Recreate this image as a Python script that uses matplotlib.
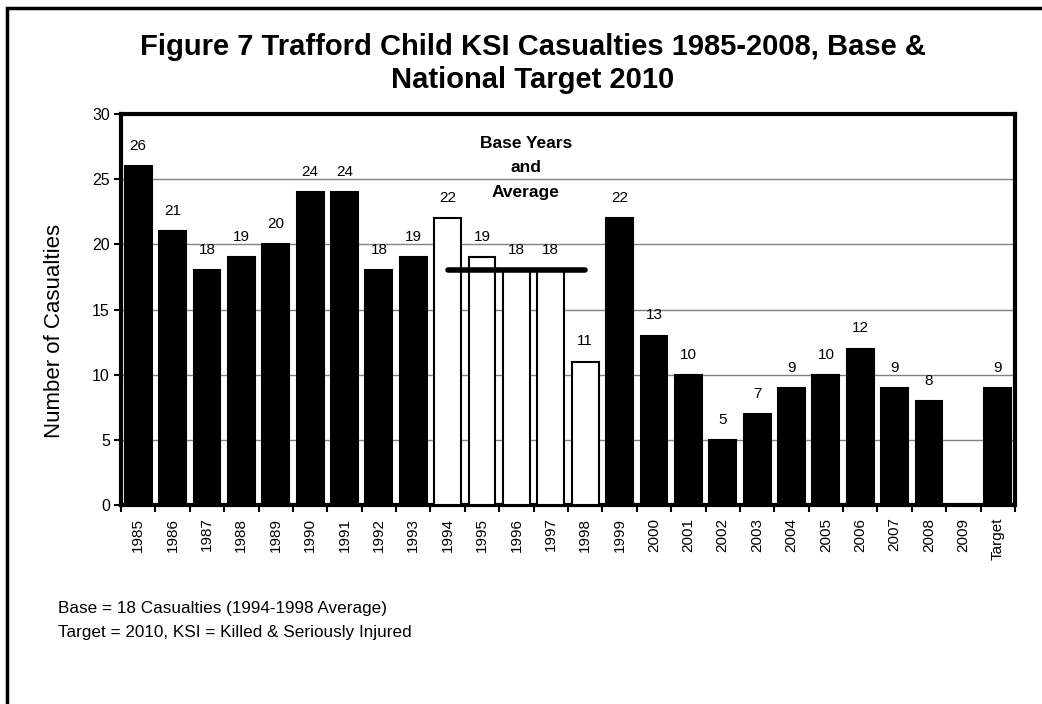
import matplotlib
matplotlib.use("Agg")
import matplotlib.pyplot as plt
from matplotlib.patches import Rectangle

plt.rcParams['font.family'] = ['Liberation Sans', 'DejaVu Sans']

categories = ['1985', '1986', '1987', '1988', '1989', '1990', '1991', '1992', '1993',
              '1994', '1995', '1996', '1997', '1998', '1999', '2000', '2001', '2002',
              '2003', '2004', '2005', '2006', '2007', '2008', '2009', 'Target']
values = [26, 21, 18, 19, 20, 24, 24, 18, 19,
          22, 19, 18, 18, 11, 22, 13, 10, 5,
          7, 9, 10, 12, 9, 8, 0, 9]
base_years = ['1994', '1995', '1996', '1997', '1998']
base_average = 18

W, H = 1042, 704
fig = plt.figure(figsize=(W / 100, H / 100), dpi=100)
ax = fig.add_axes([121 / W, 1 - 505 / H, (1015 - 121) / W, (505 - 114) / H])

x = list(range(len(categories)))
colors = ['white' if c in base_years else 'black' for c in categories]
ax.bar(x, values, width=0.78, color=colors, edgecolor='black', linewidth=1.5, zorder=3)

for xi, v, c in zip(x, values, categories):
    if c == '2009':
        continue
    ax.annotate(str(v), (xi, v), xytext=(0, 14.5), textcoords='offset points',
                ha='center', va='center', fontsize=11)

bx = [categories.index(base_years[0]), categories.index(base_years[-1])]
ax.plot(bx, [base_average, base_average], color='black', linewidth=4,
        solid_capstyle='round', zorder=4)

for txt, yy in zip(['Base Years', 'and', 'Average'], [143, 168, 192]):
    fig.text(526 / W, 1 - yy / H, txt, ha='center', va='center',
             fontsize=12.5, fontweight='bold', zorder=5)

ax.set_xlim(-0.5, len(categories) - 0.5)
ax.set_ylim(0, 30)
ax.set_yticks(range(0, 31, 5))
ax.yaxis.grid(True, color='#808080', linewidth=1, zorder=0)
ax.set_axisbelow(True)
ax.set_xticks(x)
ax.set_xticklabels(categories, rotation=90, fontsize=11)
ax.set_xticks([i - 0.5 for i in range(len(categories) + 1)], minor=True)
ax.tick_params(axis='x', which='major', length=0, pad=9)
ax.tick_params(axis='x', which='minor', length=5, width=1.5, direction='out')
ax.tick_params(axis='y', length=5, width=1.5, labelsize=11.5, pad=3)
for s in ax.spines.values():
    s.set_linewidth(3)
    s.set_color('black')

fig.text(55 / W, 1 - 331 / H, 'Number of Casualties', rotation=90,
         ha='center', va='center', fontsize=16)

fig.text(533 / W, 1 - 47 / H, 'Figure 7 Trafford Child KSI Casualties 1985-2008, Base &',
         ha='center', va='center', fontsize=21, fontweight='bold')
fig.text(533 / W, 1 - 80 / H, 'National Target 2010',
         ha='center', va='center', fontsize=21, fontweight='bold')

fig.text(58 / W, 1 - 608 / H, 'Base = 18 Casualties (1994-1998 Average)',
         ha='left', va='center', fontsize=12.3)
fig.text(58 / W, 1 - 633 / H, 'Target = 2010, KSI = Killed & Seriously Injured',
         ha='left', va='center', fontsize=12.3)

fig.patches.append(Rectangle((7 / W, -0.1), 1.2, 1 - 8 / H + 0.1, transform=fig.transFigure,
                             fill=False, edgecolor='black', linewidth=2.5))

fig.savefig('out.png', dpi=100)
